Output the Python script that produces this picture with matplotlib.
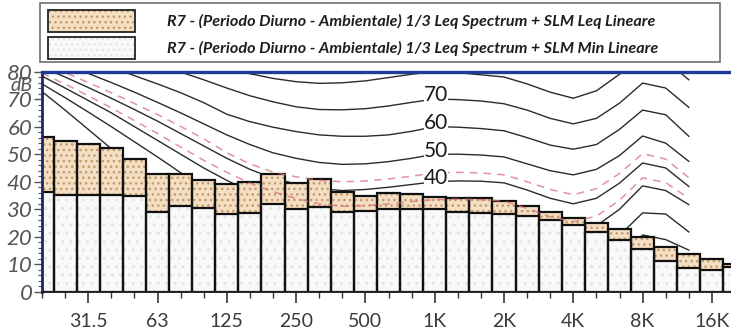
import matplotlib
matplotlib.use("Agg")
import matplotlib.pyplot as plt
from matplotlib.patches import Rectangle
import numpy as np

# 1/3-octave band centres (index positions on the x axis)
bands = ["20", "25", "31.5", "40", "50", "63", "80", "100", "125", "160", "200",
         "250", "315", "400", "500", "630", "800", "1K", "1.25K", "1.6K", "2K",
         "2.5K", "3.15K", "4K", "5K", "6.3K", "8K", "10K", "12.5K", "16K", "20K"]

# Spectrum levels, dB
leq = [56.1, 54.7, 53.8, 52.1, 48.4, 42.7, 42.9, 40.6, 39.2, 40.0, 42.7,
       39.7, 41.0, 36.2, 34.8, 35.8, 35.6, 34.6, 34.2, 34.2, 33.1,
       31.3, 28.9, 26.7, 24.9, 22.9, 19.8, 16.2, 13.8, 12.0, 10.2]
lmin = [36.2, 35.2, 35.2, 35.2, 34.8, 29.1, 31.3, 30.6, 28.3, 28.5, 31.9,
        30.1, 30.7, 29.1, 29.5, 30.1, 30.1, 30.1, 29.1, 28.8, 28.2,
        27.6, 26.1, 24.3, 21.7, 18.9, 15.5, 11.2, 8.6, 8.0, 9.0]

# Equal-loudness contours, 20 Hz .. 12.5 kHz, dB
phon80 = [99.5, 97, 94.5, 92, 89.5, 87.2, 85, 83, 81, 79.2, 77.5, 76.3, 75.7, 75.9,
          76.6, 77.8, 79, 80, 79.6, 78.8, 78, 75.5, 72.5, 70.3, 73, 79, 86, 84, 77]
phon70 = [94.5, 92, 89.5, 87, 84.7, 82.3, 79.8, 77, 74, 71.2, 69, 67.2, 66.2, 66.1,
          66.5, 67.5, 68.8, 70, 69.8, 69.3, 68.3, 66, 63, 61, 63, 68.5, 75.8, 74, 67]
phon60 = [89.5, 87, 84.3, 81.5, 78.5, 75.5, 72.3, 68.7, 64.5, 61.8, 59.8, 58.2, 57, 56.5,
          56.5, 57, 58.3, 60, 59.8, 59.3, 58.5, 56, 53.3, 51.8, 53.5, 59, 66, 64.3, 56.5]
phon50 = [85.5, 82.5, 79.3, 76, 72.5, 68.8, 65, 61, 57, 53.5, 50.5, 48.5, 47, 46.3,
          46.5, 47.3, 48.5, 50, 50, 49.7, 49, 46.5, 44, 42.5, 44.5, 49.5, 56.6, 54, 47.4]
phon40 = [81.5, 78, 74.2, 70.3, 66.2, 62, 57.5, 53, 48.5, 44.5, 41.3, 39.2, 37.5, 36.8,
          37.2, 38, 39, 40, 40.3, 40.2, 39.6, 37, 34, 32, 34, 39.5, 46.8, 45, 38.3]
phon30 = [78.3, 74, 69.5, 65, 60, 55, 50, 45, 40.5, 36.5, 33.5, 31, 29, 28,
          28.2, 28.8, 29.5, 30, 30.3, 30.2, 29.5, 27, 24, 22, 24, 30, 38.5, 36.8, 31.7]
phon20 = [75.5, 70.5, 65.3, 60, 54.5, 49, 43.3, 38, 33, 29, 25.5, 22.8, 20.8, 19.7,
          19.3, 19.5, 19.8, 20, 20.3, 20.2, 19.5, 17, 14, 12, 14, 20.5, 28.7, 28.3, 21.8]
phon10 = [72.7, 66, 59, 52, 45.2, 38.5, 32.3, 27, 22.5, 19, 16, 13.8, 12, 10.8,
          10.2, 10, 10, 10, 10.3, 10.2, 9.5, 7, 4, 2.5, 4.5, 11, 20.7, 19, 15.2]

# Loudness contours of the two spectra (dashed)
loud_leq = [82.9, 79.6, 76, 72.3, 68.4, 64.4, 60.1, 55.6, 50.5, 46.5, 43.5, 41.8, 40.5, 40,
            40.3, 41, 42, 43.3, 43.4, 43.2, 42.5, 40, 37.2, 35.3, 37.5, 43, 50.2, 48.2, 41.5]
loud_min = [79.4, 75.4, 71.2, 66.8, 62.2, 57.5, 52.6, 47.8, 43.4, 39.5, 36.4, 33.9, 32, 31.1,
            31.3, 32, 32.8, 33.5, 33.7, 33.5, 33, 30.3, 27.3, 25.5, 27.5, 33.3, 41.4, 39.7, 34]

contour_labels = ["70", "60", "50", "40"]
contour_label_levels = [70, 60, 50, 40]

major_ticks = ["31.5", "63", "125", "250", "500", "1K", "2K", "4K", "8K", "16K"]

legend_labels = [
    "R7 - (Periodo Diurno - Ambientale) 1/3 Leq Spectrum + SLM Leq Lineare",
    "R7 - (Periodo Diurno - Ambientale) 1/3 Leq Spectrum + SLM Min Lineare",
]

# ---------------------------------------------------------------- layout
W, H = 731, 334
fig = plt.figure(figsize=(W / 100, H / 100), dpi=100)
fig.patch.set_facecolor("white")

px_left, px_right = 42, 731
px_top, px_bottom = 71.5, 292
band_px = 23.1
ax = fig.add_axes([px_left / W, (H - px_bottom) / H,
                   (px_right - px_left) / W, (px_bottom - px_top) / H])
ax.set_xlim(0, (px_right - px_left) / band_px)
ax.set_ylim(0, 80)
ax.set_facecolor("white")

FONT = "Lato"
ORANGE = "#f4dfc3"
ORANGE_DOT = "#c39a6b"
WHITE = "#f9f9f9"
WHITE_DOT = "#e4e4e4"

x = np.arange(len(bands))
xc = np.arange(len(phon80))

# solid equal-loudness curves (behind the bars)
for curve in [phon80, phon70, phon60, phon50, phon40, phon30, phon20, phon10]:
    ax.plot(xc, curve, color="#2b2b2b", lw=1.0, zorder=1)

# bars: Leq (dotted peach) with the Min bar drawn over it
ax.bar(x, leq, width=1.0, color=ORANGE, edgecolor=ORANGE_DOT, hatch="...",
       linewidth=0, zorder=2)
ax.bar(x, leq, width=1.0, fill=False, edgecolor="#111111", linewidth=1.6, zorder=3)
ax.bar(x, lmin, width=1.0, color=WHITE, edgecolor=WHITE_DOT, hatch="..",
       linewidth=0, zorder=3.2)
ax.bar(x, lmin, width=1.0, fill=False, edgecolor="#111111", linewidth=1.6, zorder=3.4)

# dashed loudness contours on top
for curve in [loud_leq, loud_min]:
    ax.plot(xc, curve, color="#d9707a", lw=1.1, ls=(0, (5, 4)), alpha=0.75, zorder=4)

# phon labels at 1 kHz
i1k = bands.index("1K")
for lab, lev in zip(contour_labels, contour_label_levels):
    ax.text(i1k + 0.05, lev + 1.3, lab, ha="center", va="center", fontsize=15,
            family=FONT, color="#1a1a1a", zorder=5,
            bbox=dict(boxstyle="square,pad=0.0", fc="white", ec="none"))

# spines
ax.spines["right"].set_visible(False)
ax.spines["left"].set_color("#1c2670")
ax.spines["left"].set_linewidth(2.0)
ax.spines["top"].set_color("#1f3b9a")
ax.spines["top"].set_linewidth(2.4)
ax.spines["bottom"].set_color("#222222")
ax.spines["bottom"].set_linewidth(1.4)
for s in ax.spines.values():
    s.set_zorder(6)

# ticks
ax.set_xticks([bands.index(t) for t in major_ticks])
ax.set_xticklabels(major_ticks)
ax.set_xticks(x[x <= 29], minor=True)
ax.tick_params(axis="x", which="major", length=8, width=1.2, color="#333333",
               labelsize=14, labelcolor="#3a3a3a", pad=7)
ax.tick_params(axis="x", which="minor", length=4, width=1.0, color="#333333")
ax.set_yticks(np.arange(0, 81, 10))
ax.set_yticks(np.arange(0, 81, 2), minor=True)
ax.tick_params(axis="y", which="major", length=6, width=1.0, color="#555555",
               labelsize=16, labelcolor="#555555", pad=1)
ax.tick_params(axis="y", which="minor", length=3, width=0.8, color="#555555")
for lab in ax.get_xticklabels():
    lab.set_family(FONT)
for lab in ax.get_yticklabels():
    lab.set_family(FONT)
    lab.set_style("italic")

# "dB" unit under the top tick label
fig.text(33 / W, 1 - 86 / H, "dB", ha="right", va="center", fontsize=14,
         family=FONT, style="italic", color="#555555")

# ---------------------------------------------------------------- legend box
lax = fig.add_axes([0, 0, 1, 1], zorder=10)
lax.set_xlim(0, W)
lax.set_ylim(H, 0)
lax.axis("off")
lax.patch.set_alpha(0)
lax.add_patch(Rectangle((40, 3), 680, 59, fill=False, ec="#6e6e6e", lw=1.2))
swatches = [(ORANGE, ORANGE_DOT), (WHITE, WHITE_DOT)]
for k, (lab, (fc, dc)) in enumerate(zip(legend_labels, swatches)):
    y0 = 10 + k * 27
    lax.add_patch(Rectangle((48, y0), 87, 22, fc=fc, ec=dc, hatch="...", lw=0))
    lax.add_patch(Rectangle((48, y0), 87, 22, fill=False, ec="#222222", lw=1.3))
    lax.text(167, y0 + 11, lab, ha="left", va="center", fontsize=11.6, family=FONT,
             style="italic", weight="bold", color="#1e1e1e")

fig.savefig("out.png", dpi=100, facecolor="white")
